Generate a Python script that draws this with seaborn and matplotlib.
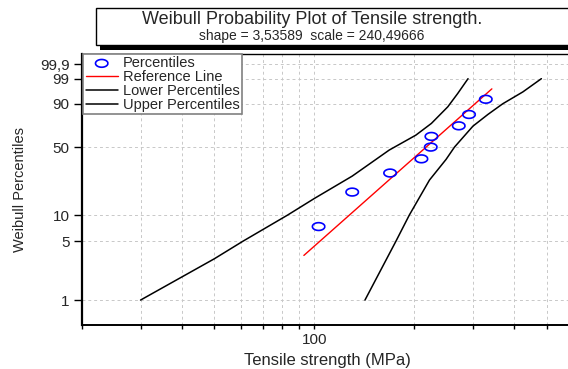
import numpy as np
import matplotlib
matplotlib.use("Agg")
import matplotlib.pyplot as plt
from matplotlib.patches import Rectangle
from matplotlib.ticker import NullFormatter, NullLocator
import seaborn as sns

# Values
strength = [103, 130, 169, 210, 224, 225, 272, 292, 328]
percentile = [7.4, 18.1, 28.7, 39.4, 50.0, 60.6, 71.3, 81.9, 92.6]

ref_x = [93, 342]
ref_p = [3.4, 96.9]

lower_x = [30, 50, 61, 83, 100, 130, 168, 202, 225, 252, 270, 290]
lower_p = [1, 3.1, 5, 10, 15.4, 26.7, 47.2, 61.9, 73.7, 87.9, 95.3, 99]

upper_x = [142, 176, 193, 222, 249, 264, 300, 333, 369, 424, 482]
upper_p = [1, 5, 10, 24.3, 38.9, 50, 71.0, 82.0, 90, 95.9, 99]

y_ticks = [1, 5, 10, 50, 90, 99, 99.9]
y_labels = ["1", "5", "10", "50", "90", "99", "99,9"]
x_minor = [20, 30, 40, 50, 60, 70, 80, 90, 200, 300, 400, 500]

title = "Weibull Probability Plot of Tensile strength."
subtitle = "shape = 3,53589  scale = 240,49666"

sns.set_style("ticks")
plt.rcParams["font.family"] = ["Liberation Sans", "DejaVu Sans"]


def weibull_fwd(p):
    with np.errstate(all="ignore"):
        return np.log(-np.log(1 - np.asarray(p) / 100.0))


def weibull_inv(z):
    with np.errstate(all="ignore"):
        return 100.0 * (1 - np.exp(-np.exp(np.asarray(z))))


fig = plt.figure(figsize=(5.68, 3.69), dpi=100)
ax = fig.add_axes([82 / 568, 44 / 369, (573 - 82) / 568, (325 - 54) / 369])

# ellipse-shaped open marker (the original is stretched sideways)
t = np.linspace(0, 2 * np.pi, 41)
ell = np.column_stack([1.6 * np.cos(t), np.sin(t)])

sns.scatterplot(x=strength, y=percentile, marker=ell, s=80, facecolor="none",
                edgecolor="#0000ff", linewidth=1.2, ax=ax, label="Percentiles", zorder=4)
sns.lineplot(x=ref_x, y=ref_p, color="#ff0000", lw=1.0, sort=False,
             estimator=None, ax=ax, label="Reference Line", zorder=3)
sns.lineplot(x=lower_x, y=lower_p, color="black", lw=1.1, sort=False,
             estimator=None, ax=ax, label="Lower Percentiles", zorder=3)
sns.lineplot(x=upper_x, y=upper_p, color="black", lw=1.1, sort=False,
             estimator=None, ax=ax, label="Upper Percentiles", zorder=3)

ax.set_xscale("log")
ax.set_yscale("function", functions=(weibull_fwd, weibull_inv))
ax.set_xlim(20, 600)
ax.set_ylim(0.503, 99.989)

ax.set_yticks(y_ticks)
ax.set_yticklabels(y_labels, fontsize=11)
ax.yaxis.set_minor_locator(NullLocator())
ax.set_xticks([100])
ax.set_xticklabels(["100"], fontsize=11)
ax.set_xticks(x_minor, minor=True)
ax.xaxis.set_minor_formatter(NullFormatter())

ax.tick_params(axis="y", length=6, width=1, pad=3, color="black")
ax.tick_params(axis="x", which="both", length=3, width=1, pad=3, color="black")

ax.grid(which="both", color="#c8c8c8", linestyle=(0, (3, 3)), lw=0.7)
ax.set_axisbelow(True)

for side in ["left", "bottom", "top"]:
    ax.spines[side].set_visible(True)
    ax.spines[side].set_color("black")
ax.spines["right"].set_visible(False)
ax.spines["left"].set_linewidth(1.6)
ax.spines["bottom"].set_linewidth(1.4)
ax.spines["top"].set_linewidth(1.0)

ax.set_xlabel("Tensile strength (MPa)", fontsize=12, labelpad=4)
ax.set_ylabel("Weibull Percentiles", fontsize=10.5, labelpad=9)

leg = ax.legend(loc="upper left", bbox_to_anchor=(0.003, 1.0), fontsize=10.5,
                frameon=True, fancybox=False, framealpha=1, borderaxespad=0,
                borderpad=0.15, labelspacing=0.0, handlelength=2.2,
                handletextpad=0.35)
leg.get_frame().set_edgecolor("#808080")
leg.get_frame().set_linewidth(1.2)

# title box with a drop shadow
fig.add_artist(Rectangle((100 / 568, 1 - 50 / 369), 0.9, 37 / 369,
                         transform=fig.transFigure, facecolor="black",
                         edgecolor="black", lw=0))
fig.add_artist(Rectangle((96 / 568, 1 - 45 / 369), 0.9, 37 / 369,
                         transform=fig.transFigure, facecolor="white",
                         edgecolor="black", lw=1))
fig.text(312 / 568, 1 - 19 / 369, title, ha="center", va="center", fontsize=13)
fig.text(312 / 568, 1 - 36 / 369, subtitle, ha="center", va="center", fontsize=10)

fig.savefig("out.png", dpi=100)
